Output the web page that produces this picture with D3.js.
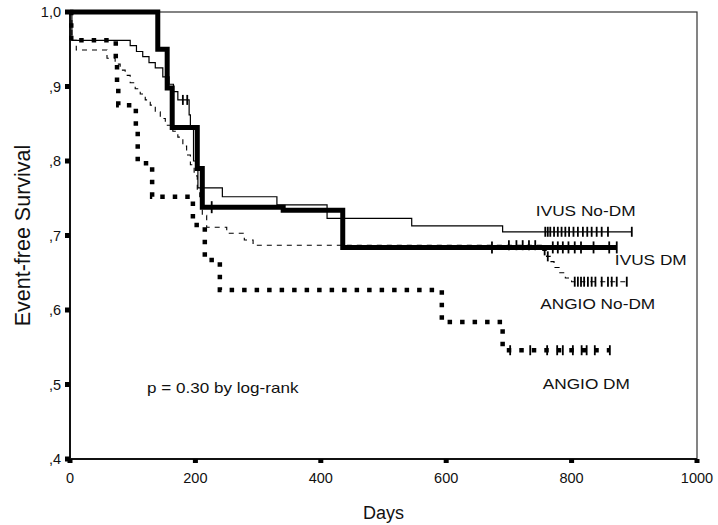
<!DOCTYPE html>
<html><head><meta charset="utf-8">
<script src="https://cdn.jsdelivr.net/npm/d3@7"></script>
<style>html,body{margin:0;padding:0;background:#fff;}svg{display:block;}text{font-family:"Liberation Sans",Arial,sans-serif;fill:#111;}</style>
</head><body><svg id="c" width="718" height="525"></svg>
<script>
const xTicks = [0, 200, 400, 600, 800, 1000];
const yTicks = [0.4, 0.5, 0.6, 0.7, 0.8, 0.9, 1.0];
const yTickLabels = [",4", ",5", ",6", ",7", ",8", ",9", "1,0"];

const ivusNoDMDays = [0, 3, 96, 106, 116, 126, 136, 148, 158, 165, 172, 190, 192, 197, 204, 243, 330, 410, 545, 690, 896];
const ivusNoDMSurv = [1.0, 0.962, 0.955, 0.947, 0.94, 0.932, 0.925, 0.913, 0.903, 0.893, 0.882, 0.862, 0.845, 0.80, 0.764, 0.752, 0.741, 0.723, 0.713, 0.705, 0.705];
const ivusNoDMCensor = [180, 187, 758, 762, 766, 772, 778, 784, 790, 796, 803, 810, 818, 825, 832, 840, 848, 858, 896];

const ivusDMDays = [0, 140, 155, 163, 203, 211, 340, 435, 872];
const ivusDMSurv = [1.0, 0.95, 0.898, 0.845, 0.79, 0.738, 0.734, 0.684, 0.684];
const ivusDMCensor = [226, 673, 770, 778, 786, 795, 805, 815, 835, 860, 872];

const angioNoDMDays = [0, 3, 10, 59, 72, 80, 88, 96, 104, 112, 120, 128, 136, 144, 152, 164, 172, 180, 186, 192, 198, 203, 207, 211, 218, 250, 278, 292, 754, 760, 766, 772, 780, 790, 800, 888];
const angioNoDMSurv = [1.0, 0.962, 0.949, 0.938, 0.93, 0.922, 0.915, 0.905, 0.897, 0.89, 0.882, 0.875, 0.866, 0.857, 0.848, 0.84, 0.832, 0.82, 0.808, 0.795, 0.78, 0.76, 0.745, 0.727, 0.711, 0.703, 0.694, 0.687, 0.68, 0.672, 0.665, 0.657, 0.65, 0.643, 0.638, 0.638];
const angioNoDMCensor = [700, 712, 722, 732, 742, 757, 762, 805, 810, 815, 820, 826, 832, 838, 848, 858, 864, 872, 888];

const angioDMDays = [0, 2, 73, 75, 77, 105, 108, 131, 196, 215, 239, 593, 690, 861];
const angioDMSurv = [1.0, 0.962, 0.935, 0.905, 0.875, 0.84, 0.797, 0.752, 0.714, 0.667, 0.627, 0.584, 0.546, 0.546];
const angioDMCensor = [702, 734, 761, 777, 786, 802, 816, 824, 837, 861];

const seriesNames = ["IVUS No-DM", "IVUS DM", "ANGIO No-DM", "ANGIO DM"];
const labelDays = [743, 869, 750, 754];
const labelSurv = [0.726, 0.66, 0.601, 0.494];
const pText = "p = 0.30 by log-rank";
const pDay = 123, pSurv = 0.489;

const svg = d3.select("#c");
const x = d3.scaleLinear().domain([0, 1000]).range([70, 697]);
const y = d3.scaleLinear().domain([0.4, 1.0]).range([459, 12]);

// frame
svg.append("rect").attr("x", x(0)).attr("y", y(1)).attr("width", x(1000) - x(0)).attr("height", y(0.4) - y(1))
  .attr("fill", "none").attr("stroke", "#333").attr("stroke-width", 1.2);
svg.append("line").attr("x1", x(0)).attr("x2", x(0)).attr("y1", y(1)).attr("y2", y(0.4)).attr("stroke", "#111").attr("stroke-width", 2);
svg.append("line").attr("x1", x(0)).attr("x2", x(1000)).attr("y1", y(0.4)).attr("y2", y(0.4)).attr("stroke", "#111").attr("stroke-width", 2);

// ticks
yTicks.forEach((t, i) => {
  svg.append("rect").attr("x", x(0) - 5).attr("y", y(t) - 2.5).attr("width", 5).attr("height", 5).attr("fill", "#000");
  svg.append("text").attr("x", x(0) - 9).attr("y", y(t) + 5).attr("text-anchor", "end").attr("font-size", 14.5).text(yTickLabels[i]);
});
xTicks.forEach(t => {
  svg.append("rect").attr("x", x(t) - 2.5).attr("y", y(0.4)).attr("width", 5).attr("height", 4).attr("fill", "#000");
  svg.append("text").attr("x", x(t)).attr("y", 483).attr("text-anchor", "middle").attr("font-size", 14.5).text(t);
});

svg.append("text").attr("x", x(500)).attr("y", 519).attr("text-anchor", "middle").attr("font-size", 18).text("Days");
svg.append("text").attr("transform", `translate(30,${(y(0.4)+y(1))/2}) rotate(-90)`).attr("text-anchor", "middle").attr("font-size", 21.5).text("Event-free Survival");

const line = d3.line().x(d => x(d[0])).y(d => y(d[1])).curve(d3.curveStepAfter);
function survAt(days, surv, t) {
  let v = surv[0];
  for (let i = 0; i < days.length; i++) if (days[i] <= t) v = surv[i];
  return v;
}
const styles = [
  {days: ivusNoDMDays, surv: ivusNoDMSurv, cens: ivusNoDMCensor, w: 1.2, dash: null, cw: 1.8, ch: 5},
  {days: ivusDMDays, surv: ivusDMSurv, cens: ivusDMCensor, w: 5, dash: null, cw: 1.8, ch: 6},
  {days: angioNoDMDays, surv: angioNoDMSurv, cens: angioNoDMCensor, w: 1.1, dash: "5,5", cw: 1.8, ch: 5},
  {days: angioDMDays, surv: angioDMSurv, cens: angioDMCensor, w: 4.5, dash: "4.5,8", cw: 1.8, ch: 5}
];
styles.forEach(s => {
  const pts = s.days.map((d, i) => [d, s.surv[i]]);
  const p = svg.append("path").attr("d", line(pts)).attr("fill", "none").attr("stroke", "#000")
    .attr("stroke-width", s.w).attr("stroke-linecap", "butt").attr("stroke-linejoin", "miter");
  if (s.dash) p.attr("stroke-dasharray", s.dash);
  s.cens.forEach(c => {
    const v = survAt(s.days, s.surv, c);
    svg.append("line").attr("x1", x(c)).attr("x2", x(c)).attr("y1", y(v) - s.ch).attr("y2", y(v) + s.ch)
      .attr("stroke", "#000").attr("stroke-width", s.cw);
  });
});

function scaledText(px, py, str, size, sx) {
  svg.append("text").attr("transform", `translate(${px},${py}) scale(${sx},1)`).attr("font-size", size).text(str);
}
seriesNames.forEach((n, i) => scaledText(x(labelDays[i]), y(labelSurv[i]), n, 15, 1.15));
scaledText(x(pDay), y(pSurv), pText, 14, 1.22);
</script></body></html>
